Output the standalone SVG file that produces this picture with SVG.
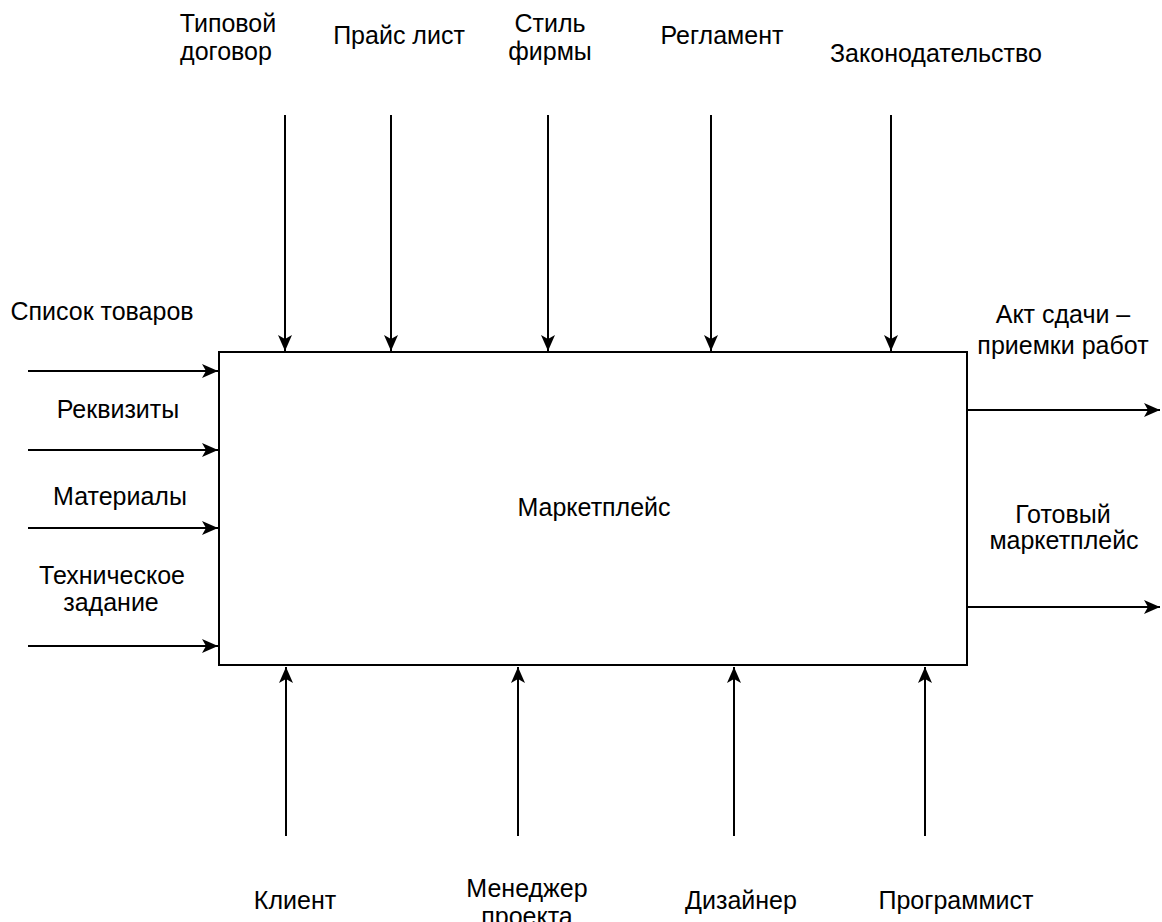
<svg xmlns="http://www.w3.org/2000/svg" width="1162" height="922" viewBox="0 0 1162 922">
<defs>
<marker id="ah" markerWidth="16" markerHeight="14" refX="16" refY="7" orient="auto" markerUnits="userSpaceOnUse" viewBox="0 0 16 14">
<path d="M0,0 L16,7 L0,14 L4,7 Z" fill="#000"/>
</marker>
</defs>
<style>
text{font-family:"Liberation Sans",Arial,sans-serif;font-size:25px;fill:#000;text-anchor:middle}
.c{stroke:#000;stroke-width:2;fill:none;marker-end:url(#ah)}
.box{fill:#fff;stroke:#000;stroke-width:2}
</style>
<rect width="1162" height="922" fill="#fff"/>
<g id="connectors">
<line class="c" x1="285" y1="115" x2="285" y2="351"/>
<line class="c" x1="391" y1="115" x2="391" y2="351"/>
<line class="c" x1="548" y1="115" x2="548" y2="351"/>
<line class="c" x1="711" y1="115" x2="711" y2="351"/>
<line class="c" x1="891" y1="115" x2="891" y2="351"/>
<line class="c" x1="28" y1="371" x2="218" y2="371"/>
<line class="c" x1="28" y1="450" x2="218" y2="450"/>
<line class="c" x1="28" y1="528" x2="218" y2="528"/>
<line class="c" x1="28" y1="646" x2="218" y2="646"/>
<line class="c" x1="968" y1="410" x2="1160" y2="410"/>
<line class="c" x1="968" y1="607" x2="1160" y2="607"/>
<line class="c" x1="286" y1="836" x2="286" y2="667"/>
<line class="c" x1="518" y1="836" x2="518" y2="667"/>
<line class="c" x1="734" y1="836" x2="734" y2="667"/>
<line class="c" x1="925" y1="836" x2="925" y2="667"/>
</g>
<g id="node-main">
<rect class="box" x="219" y="352" width="748" height="313"/>
<text x="594" y="516">Маркетплейс</text>
</g>
<g id="label-tipovoy"><text x="228" y="32">Типовой</text><text x="226" y="60">договор</text></g>
<g id="label-prais"><text x="399" y="44">Прайс лист</text></g>
<g id="label-stil"><text x="550" y="32">Стиль</text><text x="550" y="60">фирмы</text></g>
<g id="label-reglament"><text x="722" y="44">Регламент</text></g>
<g id="label-zakon"><text x="936" y="62">Законодательство</text></g>
<g id="label-spisok"><text x="102" y="320">Список товаров</text></g>
<g id="label-rekvizity"><text x="118" y="418">Реквизиты</text></g>
<g id="label-materialy"><text x="120" y="505">Материалы</text></g>
<g id="label-tz"><text x="112" y="584">Техническое</text><text x="111" y="611">задание</text></g>
<g id="label-akt"><text x="1063" y="323">Акт сдачи –</text><text x="1063" y="354">приемки работ</text></g>
<g id="label-gotovy"><text x="1063" y="523">Готовый</text><text x="1064" y="549">маркетплейс</text></g>
<g id="label-klient"><text x="295" y="909">Клиент</text></g>
<g id="label-menedzher"><text x="527" y="897">Менеджер</text><text x="527" y="925">проекта</text></g>
<g id="label-dizainer"><text x="741" y="909">Дизайнер</text></g>
<g id="label-programmist"><text x="956" y="909">Программист</text></g>
</svg>
